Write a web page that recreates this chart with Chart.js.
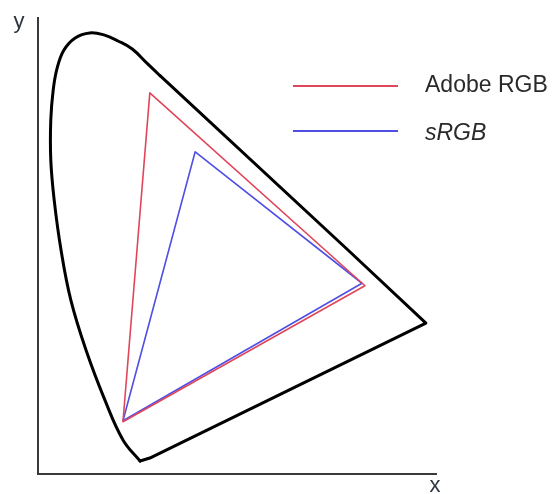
<!DOCTYPE html>
<html>
<head>
<meta charset="utf-8">
<script src="https://cdn.jsdelivr.net/npm/chart.js@4/dist/chart.umd.min.js"></script>
<style>
  html, body { margin: 0; padding: 0; background: #fff; }
  #wrap { width: 554px; height: 494px; position: relative; }
</style>
</head>
<body>
<div id="wrap"><canvas id="c" width="554" height="494"></canvas></div>
<script>
// Spectral locus, curved part (x, y chromaticity)
const locusCurveX = [0.185, 0.150, 0.113, 0.074, 0.043, 0.023, 0.009, 0.002, 0.002, 0.007, 0.015, 0.029, 0.052, 0.082, 0.111, 0.140, 0.169, 0.199, 0.226];
const locusCurveY = [-0.020, 0.022, 0.101, 0.201, 0.300, 0.399, 0.498, 0.578, 0.657, 0.717, 0.760, 0.796, 0.820, 0.830, 0.826, 0.814, 0.798, 0.770, 0.745];

// Spectral locus, straight part + purple line back to the start
const locusEdgeX = [0.226, 0.609, 0.771, 0.205, 0.185];
const locusEdgeY = [0.745, 0.401, 0.254, -0.014, -0.020];

// Adobe RGB primaries (R, G, B, back to R)
const adobeX = [0.646, 0.205, 0.150, 0.646];
const adobeY = [0.328, 0.711, 0.058, 0.328];

// sRGB primaries (R, G, B, back to R)
const srgbX = [0.640, 0.298, 0.150, 0.640];
const srgbY = [0.333, 0.594, 0.060, 0.333];

const seriesNames = ['Adobe RGB', 'sRGB'];
const axisNames = ['x', 'y'];

const toPts = (xs, ys) => xs.map((x, i) => ({ x: x, y: ys[i] }));

const RED = '#e0465a';
const BLUE = '#4f4fe6';

const overlay = {
  id: 'overlay',
  afterDraw(chart) {
    const ctx = chart.ctx;
    ctx.save();
    ctx.fillStyle = '#2e3440';
    ctx.font = '22px "Liberation Sans", Arial, sans-serif';
    ctx.textAlign = 'center';
    ctx.textBaseline = 'alphabetic';
    ctx.fillText(axisNames[1], 19, 28);
    ctx.fillText(axisNames[0], 435, 492);
    const items = [
      { name: seriesNames[0], color: RED, y: 86, italic: false, base: 92 },
      { name: seriesNames[1], color: BLUE, y: 131, italic: true, base: 140 }
    ];
    items.forEach(it => {
      ctx.strokeStyle = it.color;
      ctx.lineWidth = 2;
      ctx.beginPath();
      ctx.moveTo(293, it.y);
      ctx.lineTo(398, it.y);
      ctx.stroke();
      ctx.fillStyle = '#2a2a2a';
      ctx.textAlign = 'left';
      ctx.font = (it.italic ? 'italic ' : '') + '23px "Liberation Sans", Arial, sans-serif';
      ctx.fillText(it.name, 425, it.base);
    });
    ctx.restore();
  }
};

const lineDs = (label, xs, ys, color, width, tension) => ({
  label: label,
  data: toPts(xs, ys),
  showLine: true,
  borderColor: color,
  borderWidth: width,
  pointRadius: 0,
  tension: tension,
  borderJoinStyle: 'round',
  borderCapStyle: 'round',
  fill: false
});

new Chart(document.getElementById('c'), {
  type: 'scatter',
  data: {
    datasets: [
      lineDs('locus', locusCurveX, locusCurveY, '#000', 3, 0.4),
      lineDs('locus2', locusEdgeX, locusEdgeY, '#000', 3, 0),
      lineDs(seriesNames[0], adobeX, adobeY, RED, 1.6, 0),
      lineDs(seriesNames[1], srgbX, srgbY, BLUE, 1.6, 0)
    ]
  },
  options: {
    responsive: false,
    animation: false,
    devicePixelRatio: 1,
    layout: { padding: { left: 38, right: 118, top: 18, bottom: 20 } },
    plugins: { legend: { display: false }, tooltip: { enabled: false } },
    scales: {
      x: {
        type: 'linear',
        min: -0.0242,
        max: 0.7917,
        grid: { display: false, drawTicks: false },
        ticks: { display: false },
        border: { display: true, color: '#3a3a3a', width: 2 }
      },
      y: {
        type: 'linear',
        min: -0.0457,
        max: 0.8596,
        grid: { display: false, drawTicks: false },
        ticks: { display: false },
        border: { display: true, color: '#3a3a3a', width: 2 }
      }
    }
  },
  plugins: [overlay]
});
</script>
</body>
</html>
